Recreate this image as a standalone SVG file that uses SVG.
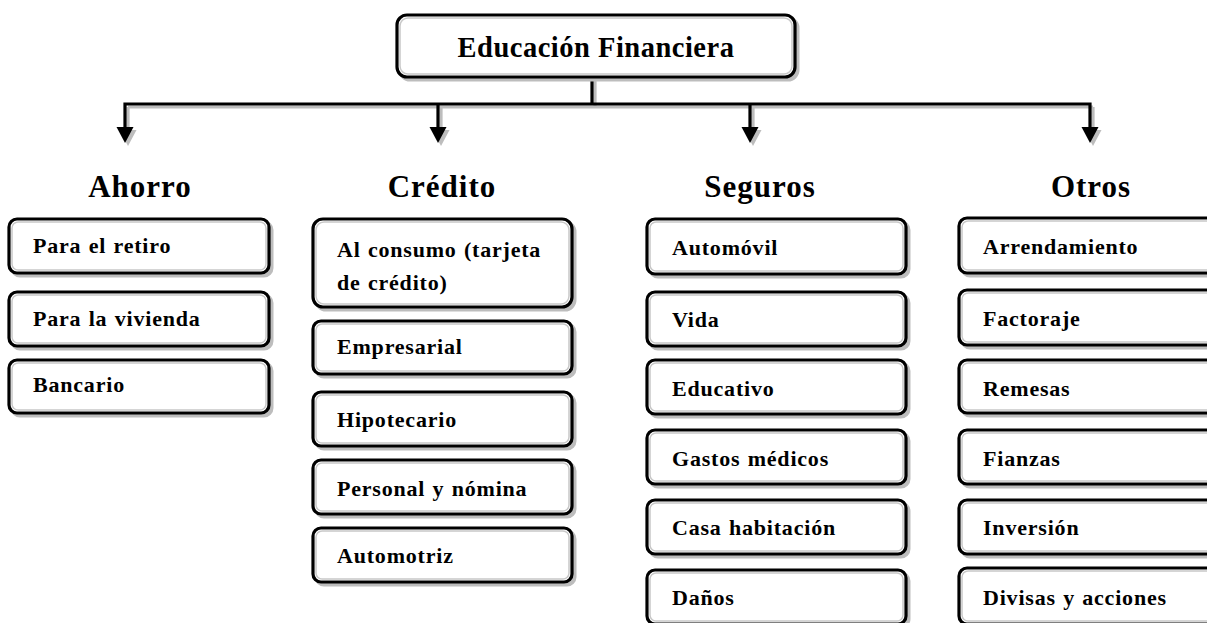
<svg xmlns="http://www.w3.org/2000/svg" width="1207" height="623" viewBox="0 0 1207 623">
<style>
.sh{fill:#bdbdbd;stroke:#bdbdbd;stroke-width:3}
.bx{fill:#fff;stroke:#000;stroke-width:3.2}
.in{fill:none;stroke:#c8c8c8;stroke-width:1.5}
.t{font-family:"Liberation Serif","DejaVu Serif",serif;font-weight:bold;font-size:22px;letter-spacing:0.8px;word-spacing:1px;fill:#000}
.h{font-family:"Liberation Serif","DejaVu Serif",serif;font-weight:bold;font-size:31px;letter-spacing:1px;fill:#000;text-anchor:middle}
.ti{font-family:"Liberation Serif","DejaVu Serif",serif;font-weight:bold;font-size:28.5px;letter-spacing:0.5px;fill:#000;text-anchor:middle}
.ln{fill:none;stroke:#000;stroke-width:3.2}
.lns{fill:none;stroke:#bdbdbd;stroke-width:3.2}
</style>
<defs>
<g id="ah"><path d="M-8.5,0 L8.5,0 L0,16 Z"/></g>
</defs>
<rect width="1207" height="623" fill="#fff"/>
<g id="connectors">
<g transform="translate(3,3)">
<path class="lns" d="M592,78 V104 M125,104 H1090 M125,104 V128 M438,104 V128 M750,104 V128 M1090,104 V128"/>
<g fill="#bdbdbd"><use href="#ah" x="125" y="127"/><use href="#ah" x="438" y="127"/><use href="#ah" x="750" y="127"/><use href="#ah" x="1090" y="127"/></g>
</g>
<path class="ln" d="M592,78 V104 M123.4,104 H1091.6 M125,104 V128 M438,104 V128 M750,104 V128 M1090,104 V128"/>
<g fill="#000"><use href="#ah" x="125" y="127"/><use href="#ah" x="438" y="127"/><use href="#ah" x="750" y="127"/><use href="#ah" x="1090" y="127"/></g>
</g>
<g id="root">
<rect class="sh" x="400" y="18" width="398" height="62" rx="10"/>
<rect class="bx" x="397" y="15" width="398" height="62" rx="10"/>
<rect class="in" x="400" y="18" width="392" height="56" rx="8"/>
<text class="ti" x="596" y="57">Educación Financiera</text>
</g>
<g id="h-ahorro"><text class="h" x="140" y="197">Ahorro</text></g>
<g id="h-credito"><text class="h" x="442" y="197">Crédito</text></g>
<g id="h-seguros"><text class="h" x="760" y="197">Seguros</text></g>
<g id="h-otros"><text class="h" x="1091" y="197">Otros</text></g>

<g id="a1"><rect class="sh" x="12" y="222" width="260" height="54" rx="8"/><rect class="bx" x="9" y="219" width="260" height="54" rx="8"/><rect class="in" x="12" y="222" width="254" height="48" rx="6"/><text class="t" x="33" y="253">Para el retiro</text></g>
<g id="a2"><rect class="sh" x="12" y="295" width="260" height="54" rx="8"/><rect class="bx" x="9" y="292" width="260" height="54" rx="8"/><rect class="in" x="12" y="295" width="254" height="48" rx="6"/><text class="t" x="33" y="326">Para la vivienda</text></g>
<g id="a3"><rect class="sh" x="12" y="363" width="260" height="53" rx="8"/><rect class="bx" x="9" y="360" width="260" height="53" rx="8"/><rect class="in" x="12" y="363" width="254" height="47" rx="6"/><text class="t" x="33" y="392">Bancario</text></g>

<g id="c1"><rect class="sh" x="316" y="222" width="259" height="88" rx="10"/><rect class="bx" x="313" y="219" width="259" height="88" rx="10"/><rect class="in" x="316" y="222" width="253" height="82" rx="8"/><text class="t" x="337" y="257">Al consumo (tarjeta</text><text class="t" x="337" y="290">de crédito)</text></g>
<g id="c2"><rect class="sh" x="316" y="324" width="259" height="53" rx="8"/><rect class="bx" x="313" y="321" width="259" height="53" rx="8"/><rect class="in" x="316" y="324" width="253" height="47" rx="6"/><text class="t" x="337" y="354">Empresarial</text></g>
<g id="c3"><rect class="sh" x="316" y="395" width="259" height="54" rx="8"/><rect class="bx" x="313" y="392" width="259" height="54" rx="8"/><rect class="in" x="316" y="395" width="253" height="48" rx="6"/><text class="t" x="337" y="427">Hipotecario</text></g>
<g id="c4"><rect class="sh" x="316" y="463" width="259" height="54" rx="8"/><rect class="bx" x="313" y="460" width="259" height="54" rx="8"/><rect class="in" x="316" y="463" width="253" height="48" rx="6"/><text class="t" x="337" y="496">Personal y nómina</text></g>
<g id="c5"><rect class="sh" x="316" y="531" width="259" height="54" rx="8"/><rect class="bx" x="313" y="528" width="259" height="54" rx="8"/><rect class="in" x="316" y="531" width="253" height="48" rx="6"/><text class="t" x="337" y="563">Automotriz</text></g>

<g id="s1"><rect class="sh" x="650" y="222" width="259" height="55" rx="8"/><rect class="bx" x="647" y="219" width="259" height="55" rx="8"/><rect class="in" x="650" y="222" width="253" height="49" rx="6"/><text class="t" x="672" y="255">Automóvil</text></g>
<g id="s2"><rect class="sh" x="650" y="295" width="259" height="54" rx="8"/><rect class="bx" x="647" y="292" width="259" height="54" rx="8"/><rect class="in" x="650" y="295" width="253" height="48" rx="6"/><text class="t" x="672" y="327">Vida</text></g>
<g id="s3"><rect class="sh" x="650" y="363" width="259" height="54" rx="8"/><rect class="bx" x="647" y="360" width="259" height="54" rx="8"/><rect class="in" x="650" y="363" width="253" height="48" rx="6"/><text class="t" x="672" y="396">Educativo</text></g>
<g id="s4"><rect class="sh" x="650" y="433" width="259" height="54" rx="8"/><rect class="bx" x="647" y="430" width="259" height="54" rx="8"/><rect class="in" x="650" y="433" width="253" height="48" rx="6"/><text class="t" x="672" y="466">Gastos médicos</text></g>
<g id="s5"><rect class="sh" x="650" y="503" width="259" height="54" rx="8"/><rect class="bx" x="647" y="500" width="259" height="54" rx="8"/><rect class="in" x="650" y="503" width="253" height="48" rx="6"/><text class="t" x="672" y="535">Casa habitación</text></g>
<g id="s6"><rect class="sh" x="650" y="573" width="259" height="54" rx="8"/><rect class="bx" x="647" y="570" width="259" height="54" rx="8"/><rect class="in" x="650" y="573" width="253" height="48" rx="6"/><text class="t" x="672" y="605">Daños</text></g>

<g id="o1"><rect class="sh" x="962" y="221" width="259" height="55" rx="8"/><rect class="bx" x="959" y="218" width="259" height="55" rx="8"/><rect class="in" x="962" y="221" width="253" height="49" rx="6"/><text class="t" x="983" y="254">Arrendamiento</text></g>
<g id="o2"><rect class="sh" x="962" y="293" width="259" height="55" rx="8"/><rect class="bx" x="959" y="290" width="259" height="55" rx="8"/><rect class="in" x="962" y="293" width="253" height="49" rx="6"/><text class="t" x="983" y="326">Factoraje</text></g>
<g id="o3"><rect class="sh" x="962" y="363" width="259" height="53" rx="8"/><rect class="bx" x="959" y="360" width="259" height="53" rx="8"/><rect class="in" x="962" y="363" width="253" height="47" rx="6"/><text class="t" x="983" y="396">Remesas</text></g>
<g id="o4"><rect class="sh" x="962" y="433" width="259" height="54" rx="8"/><rect class="bx" x="959" y="430" width="259" height="54" rx="8"/><rect class="in" x="962" y="433" width="253" height="48" rx="6"/><text class="t" x="983" y="466">Fianzas</text></g>
<g id="o5"><rect class="sh" x="962" y="503" width="259" height="54" rx="8"/><rect class="bx" x="959" y="500" width="259" height="54" rx="8"/><rect class="in" x="962" y="503" width="253" height="48" rx="6"/><text class="t" x="983" y="535">Inversión</text></g>
<g id="o6"><rect class="sh" x="962" y="571" width="259" height="56" rx="8"/><rect class="bx" x="959" y="568" width="259" height="56" rx="8"/><rect class="in" x="962" y="571" width="253" height="50" rx="6"/><text class="t" x="983" y="605">Divisas y acciones</text></g>
</svg>
